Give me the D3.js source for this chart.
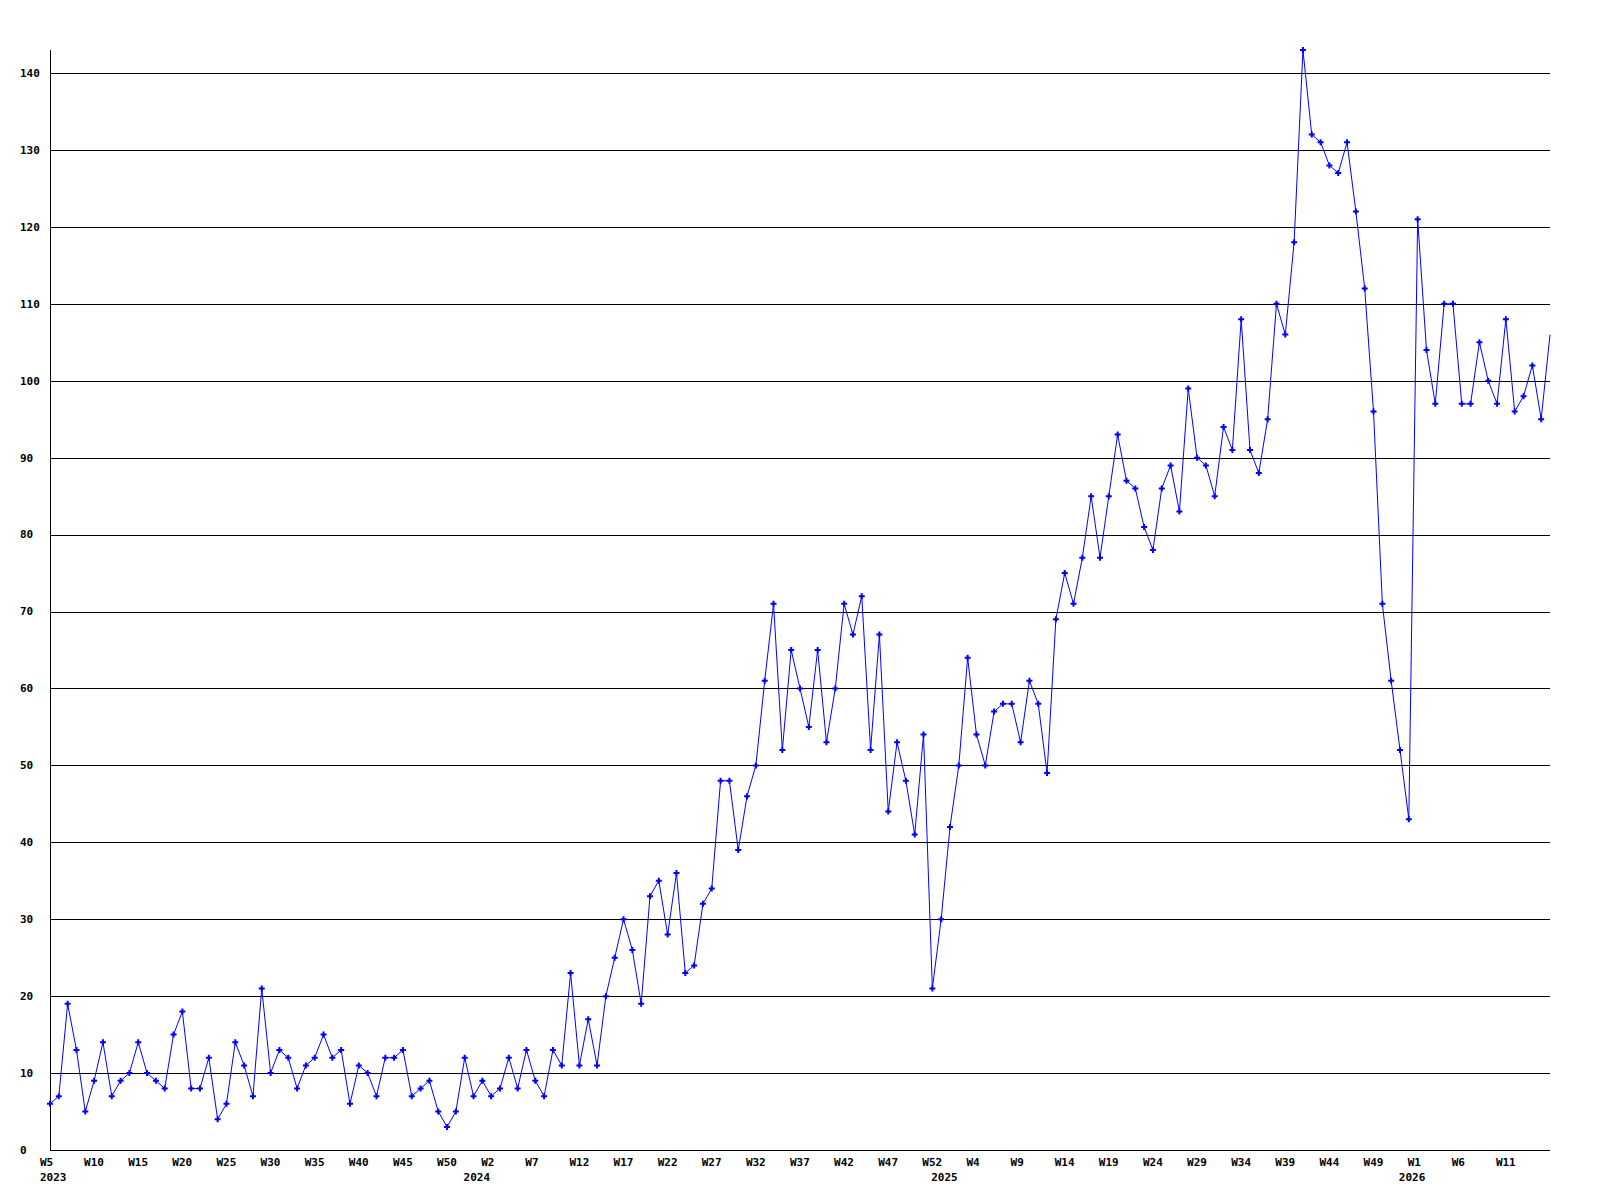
<!DOCTYPE html>
<html>
<head>
	<meta charset="UTF-8" />
	<title>Weekly chart</title>
	<script src="https://d3js.org/d3.v7.min.js"></script>
	<style>
		body { margin: 0; background: #fff; }
		text { font-family: "DejaVu Sans Mono", "Liberation Mono", monospace; font-weight: bold; font-size: 11px; fill: #000; }
	</style>
	<script type="text/javascript">

		// weekly values, first point is 2023 W5
		var values = [
			6,7,19,13,5,9,14,7,9,10,14,10,9,8,15,18,8,8,12,4,6,14,11,7,21,10,13,12,8,11,12,15,
			12,13,6,11,10,7,12,12,13,7,8,9,5,3,5,12,7,9,7,8,12,8,13,9,7,13,11,23,11,17,11,20,
			25,30,26,19,33,35,28,36,23,24,32,34,48,48,39,46,50,
			61,71,52,65,60,55,65,53,60,71,67,72,52,67,44,53,48,41,54,21,30,42,50,64,
			54,50,57,58,58,53,61,58,49,69,75,71,77,85,77,85,
			93,87,86,81,78,86,89,83,99,90,89,85,94,91,108,91,88,95,110,106,118,143,
			132,131,128,127,131,122,112,96,71,61,52,43,121,
			104,97,110,110,97,97,105,100,97,108,96,98,102,95,106
		];

		// one label every 5th point
		var weekLabels = [
			"W5","W10","W15","W20","W25","W30","W35","W40","W45","W50",
			"W2","W7","W12","W17","W22","W27","W32","W37","W42","W47","W52",
			"W4","W9","W14","W19","W24","W29","W34","W39","W44","W49",
			"W1","W6","W11"
		];
		var labelStep = 5;

		var years = ["2023","2024","2025","2026"];
		var yearIndex = [0, 48, 101, 154];

		var yTicks = [0,10,20,30,40,50,60,70,80,90,100,110,120,130,140];

		var svgW = 1600, svgH = 1200;
		var plotLeft = 50, plotRight = 1550, plotTop = 50, plotBottom = 1150;

		function onLoad() {
			var svg = d3.select("body").append("svg")
				.attr("width", svgW)
				.attr("height", svgH);

			var x = d3.scaleLinear().domain([0, values.length - 1]).range([plotLeft, plotRight]);
			var y = d3.scaleLinear().domain([0, d3.max(values)]).range([plotBottom, plotTop]);

			// grid lines
			svg.append("g").selectAll("line").data(yTicks).enter().append("line")
				.attr("x1", plotLeft).attr("x2", plotRight)
				.attr("y1", function(d) { return Math.round(y(d)) + 0.5; })
				.attr("y2", function(d) { return Math.round(y(d)) + 0.5; })
				.attr("stroke", "#000")
				.attr("shape-rendering", "crispEdges");

			// y axis line
			svg.append("line")
				.attr("x1", plotLeft + 0.5).attr("x2", plotLeft + 0.5)
				.attr("y1", plotTop).attr("y2", plotBottom)
				.attr("stroke", "#000")
				.attr("shape-rendering", "crispEdges");

			svg.append("g").selectAll("text").data(yTicks).enter().append("text")
				.attr("x", 20)
				.attr("y", function(d) { return y(d); })
				.attr("dy", "0.35em")
				.text(function(d) { return d; });

			// x labels
			svg.append("g").selectAll("text").data(weekLabels).enter().append("text")
				.attr("x", function(d, i) { return x(i * labelStep) - 10; })
				.attr("y", 1166)
				.text(function(d) { return d; });

			svg.append("g").selectAll("text").data(years).enter().append("text")
				.attr("x", function(d, i) { return x(yearIndex[i]) - 10; })
				.attr("y", 1181)
				.text(function(d) { return d; });

			var line = d3.line()
				.x(function(d, i) { return x(i); })
				.y(function(d) { return y(d); });

			svg.append("path")
				.datum(values)
				.attr("d", line)
				.attr("fill", "none")
				.attr("stroke", "#0000ff")
				.attr("stroke-width", 1);

			// markers, the one on the right edge is not drawn
			var pts = values.map(function(d, i) { return {i: i, v: d}; })
				.filter(function(p) { return p.i < values.length - 1; });

			svg.append("g").selectAll("path").data(pts).enter().append("path")
				.attr("transform", function(p) { return "translate(" + x(p.i) + "," + y(p.v) + ")"; })
				.attr("d", d3.symbol().type(d3.symbolCross).size(20))
				.attr("fill", "#0000ff");
		}
	</script>
</head>
<body onload="onLoad()">
</body>
</html>
